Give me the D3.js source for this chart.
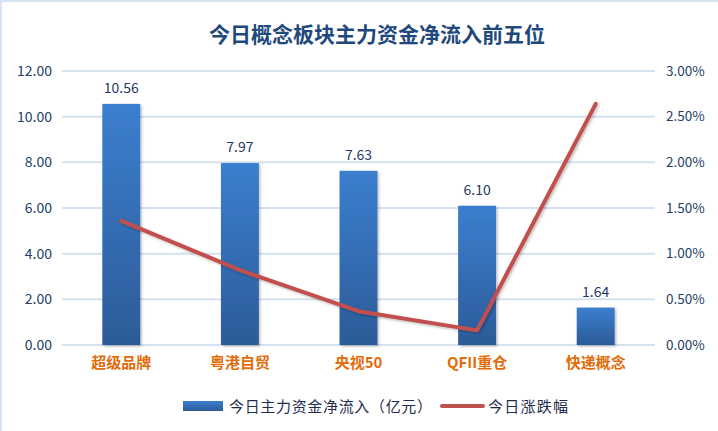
<!DOCTYPE html>
<html><head><meta charset="utf-8">
<script src="https://cdn.jsdelivr.net/npm/d3@7"></script>
<style>body{margin:0;background:#fff}svg{display:block}</style>
</head><body><div id="chart"></div>
<script>
const categories = ["超级品牌","粤港自贸","央视50","QFII重仓","快递概念"];
const inflow = [10.56, 7.97, 7.63, 6.10, 1.64];
const change = [1.36, 0.82, 0.37, 0.16, 2.64];
const leftTicks = [0,2,4,6,8,10,12];
const rightTicks = [0,0.5,1,1.5,2,2.5,3];
const title = "今日概念板块主力资金净流入前五位";
const legendLabels = ["今日主力资金净流入（亿元）","今日涨跌幅"];

const W=718,H=431;
const m={left:62,right:63,top:71,bottom:86};
const font = "'Noto Sans CJK SC','Noto Sans',sans-serif";
const svg=d3.select("#chart").append("svg").attr("width",W).attr("height",H);

const defs=svg.append("defs");
const g1=defs.append("linearGradient").attr("id","barGrad").attr("x1",0).attr("y1",0).attr("x2",0).attr("y2",1);
g1.append("stop").attr("offset","0%").attr("stop-color","#3b7fcf");
g1.append("stop").attr("offset","100%").attr("stop-color","#2c5b98");
const f=defs.append("filter").attr("id","sh").attr("x","-20%").attr("y","-20%").attr("width","140%").attr("height","140%");
f.append("feDropShadow").attr("dx",1.5).attr("dy",1.5).attr("stdDeviation",1.2).attr("flood-color","#000").attr("flood-opacity",0.25);

// border
svg.append("rect").attr("x",1).attr("y",1).attr("width",W+4).attr("height",H+4)
  .attr("fill","none").attr("stroke","#d5e2f2").attr("stroke-width",2);

const x=d3.scaleBand().domain(categories).range([m.left,W-m.right]).paddingInner(0.68).paddingOuter(0.34);
const y=d3.scaleLinear().domain([0,12]).range([H-m.bottom,m.top]);
const y2=d3.scaleLinear().domain([0,3]).range([H-m.bottom,m.top]);

// grid
svg.append("g").selectAll("line").data(leftTicks).join("line")
  .attr("x1",m.left).attr("x2",W-m.right).attr("y1",d=>y(d)).attr("y2",d=>y(d))
  .attr("stroke","#d5e1f1").attr("stroke-width",2);

// left axis
const la=svg.append("g").attr("transform",`translate(${m.left},0)`)
  .call(d3.axisLeft(y).tickValues(leftTicks).tickFormat(d3.format(".2f")).tickSize(0).tickPadding(10));
la.select(".domain").remove();
la.selectAll("text").attr("font-family",font).attr("font-size",14).attr("fill","#243f66");

const ra=svg.append("g").attr("transform",`translate(${W-m.right},0)`)
  .call(d3.axisRight(y2).tickValues(rightTicks).tickFormat(d=>d3.format(".2f")(d)+"%").tickSize(0).tickPadding(11));
ra.select(".domain").remove();
ra.selectAll("text").attr("font-family",font).attr("font-size",13.5).attr("fill","#243f66");

// bars
svg.append("g").selectAll("rect").data(inflow).join("rect")
  .attr("x",(d,i)=>x(categories[i])).attr("width",x.bandwidth())
  .attr("y",d=>y(d)).attr("height",d=>y(0)-y(d))
  .attr("fill","url(#barGrad)").attr("filter","url(#sh)");

// bar labels
svg.append("g").selectAll("text").data(inflow).join("text")
  .attr("x",(d,i)=>x(categories[i])+x.bandwidth()/2).attr("y",d=>y(d)-11)
  .attr("text-anchor","middle").attr("font-family",font).attr("font-size",14)
  .attr("fill","#1f3864").text(d=>d3.format(".2f")(d));

// category labels
const xa=svg.append("g").attr("transform",`translate(0,${H-m.bottom})`)
  .call(d3.axisBottom(x).tickSize(0).tickPadding(12));
xa.select(".domain").remove();
xa.selectAll("text").attr("font-family",font).attr("font-size",15).attr("font-weight","bold").attr("fill","#e36c0a");

// line
const line=d3.line().x((d,i)=>x(categories[i])+x.bandwidth()/2).y(d=>y2(d)).curve(d3.curveLinear);
svg.append("path").datum(change).attr("d",line).attr("fill","none")
  .attr("stroke","#c0504d").attr("stroke-width",4).attr("stroke-linecap","round").attr("stroke-linejoin","round")
  .attr("filter","url(#sh)");

// title
svg.append("text").attr("x",377).attr("y",42).attr("text-anchor","middle")
  .attr("font-family",font).attr("font-size",21).attr("font-weight","bold").attr("fill","#1f497d").text(title);

// legend
const lg=svg.append("g");
lg.append("rect").attr("x",183).attr("y",401).attr("width",40).attr("height",10).attr("fill","url(#barGrad)");
lg.append("text").attr("x",229).attr("y",412).attr("font-family",font).attr("font-size",15).attr("fill","#1f2d4d")
  .attr("textLength",203).attr("lengthAdjust","spacing").text(legendLabels[0]);
lg.append("line").attr("x1",442).attr("x2",483).attr("y1",406).attr("y2",406).attr("stroke","#c0504d").attr("stroke-width",4).attr("stroke-linecap","round");
lg.append("text").attr("x",488).attr("y",412).attr("font-family",font).attr("font-size",15).attr("fill","#1f2d4d")
  .attr("textLength",80).attr("lengthAdjust","spacing").text(legendLabels[1]);
</script></body></html>
